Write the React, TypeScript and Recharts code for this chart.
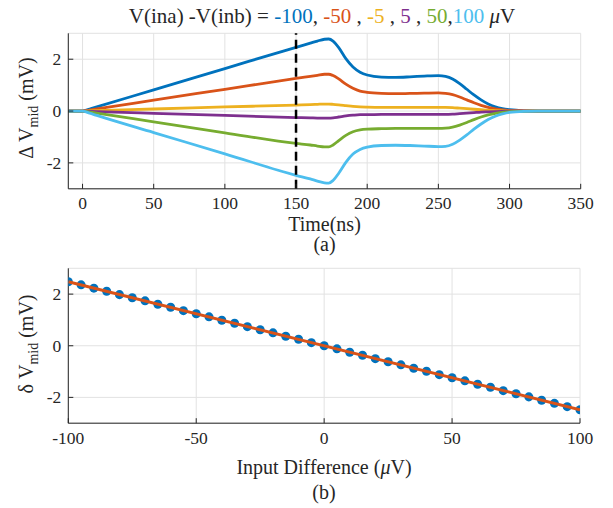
import React from 'react';
import { LineChart, Line, XAxis, YAxis, CartesianGrid, ReferenceLine, ScatterChart, Scatter } from 'recharts';

// ---------- top panel (a) ----------
const times = [-10, 0, 5, 10, 50, 100, 150, 160, 165, 170, 173, 176, 180, 185, 190, 195, 200, 210, 220, 230, 240, 250, 255, 260, 265, 270, 275, 280, 285, 290, 295, 300, 310, 320, 350];
const dvM100 = [0, 0, 0.08, 0.16, 0.82, 1.64, 2.46, 2.62, 2.70, 2.77, 2.78, 2.70, 2.45, 2.02, 1.70, 1.50, 1.39, 1.31, 1.30, 1.32, 1.35, 1.37, 1.34, 1.24, 1.06, 0.84, 0.62, 0.43, 0.27, 0.16, 0.09, 0.05, 0.01, 0, 0];
const dvM50 = [0, 0, 0.04, 0.08, 0.42, 0.84, 1.26, 1.34, 1.38, 1.42, 1.42, 1.37, 1.24, 1.04, 0.88, 0.77, 0.72, 0.68, 0.67, 0.68, 0.69, 0.70, 0.68, 0.63, 0.54, 0.43, 0.32, 0.22, 0.14, 0.08, 0.04, 0.02, 0.01, 0, 0];
const dvM5 = [0, 0, 0.01, 0.02, 0.08, 0.16, 0.23, 0.25, 0.26, 0.27, 0.27, 0.26, 0.24, 0.21, 0.18, 0.16, 0.15, 0.14, 0.14, 0.14, 0.14, 0.14, 0.14, 0.13, 0.11, 0.09, 0.07, 0.05, 0.03, 0.02, 0.01, 0, 0, 0, 0];
const dvP5 = [0, 0, -0.01, -0.02, -0.09, -0.17, -0.25, -0.26, -0.27, -0.27, -0.27, -0.26, -0.23, -0.19, -0.16, -0.14, -0.14, -0.13, -0.13, -0.13, -0.13, -0.13, -0.13, -0.12, -0.10, -0.08, -0.06, -0.04, -0.03, -0.02, -0.01, 0, 0, 0, 0];
const dvP50 = [0, 0, -0.04, -0.08, -0.42, -0.84, -1.25, -1.31, -1.35, -1.38, -1.38, -1.31, -1.14, -0.94, -0.80, -0.73, -0.70, -0.68, -0.67, -0.67, -0.67, -0.67, -0.66, -0.62, -0.54, -0.44, -0.33, -0.23, -0.15, -0.09, -0.05, -0.02, -0.01, 0, 0];
const dvP100 = [0, 0, -0.08, -0.17, -0.83, -1.65, -2.48, -2.62, -2.70, -2.77, -2.78, -2.68, -2.40, -1.98, -1.66, -1.48, -1.39, -1.33, -1.32, -1.33, -1.35, -1.37, -1.36, -1.28, -1.12, -0.92, -0.70, -0.50, -0.33, -0.20, -0.11, -0.05, -0.01, 0, 0];

const seriesKeys = ['m100', 'm50', 'm5', 'p5', 'p50', 'p100'];
const seriesValues = [dvM100, dvM50, dvM5, dvP5, dvP50, dvP100];
const seriesColors = ['#0072BD', '#D95319', '#EDB120', '#7E2F8E', '#77AC30', '#4DBEEE'];
const seriesLabels = ['-100', '-50', '-5', '5', '50', '100'];
const timeTicks = [0, 50, 100, 150, 200, 250, 300, 350];
const dvTicks = [-2, 0, 2];
const markerTime = 150;

// ---------- bottom panel (b) ----------
const diffX = [-100, -95, -90, -85, -80, -75, -70, -65, -60, -55, -50, -45, -40, -35, -30, -25, -20, -15, -10, -5, 0, 5, 10, 15, 20, 25, 30, 35, 40, 45, 50, 55, 60, 65, 70, 75, 80, 85, 90, 95, 100];
const diffY = [2.48, 2.36, 2.23, 2.11, 1.98, 1.86, 1.74, 1.61, 1.49, 1.36, 1.24, 1.12, 0.99, 0.87, 0.74, 0.62, 0.50, 0.37, 0.25, 0.12, 0.0, -0.12, -0.25, -0.37, -0.50, -0.62, -0.74, -0.87, -0.99, -1.12, -1.24, -1.36, -1.49, -1.61, -1.74, -1.86, -1.98, -2.11, -2.23, -2.36, -2.48];
const fitX = [-100, 100];
const fitY = [2.48, -2.48];
const diffTicks = [-100, -50, 0, 50, 100];

const FONT = '"Liberation Serif", "Times New Roman", serif';
const INK = '#262626';
const GRID = '#e2e2e2';

const topData = times.map((t, i) => {
  const row: Record<string, number> = { t };
  seriesKeys.forEach((k, j) => { row[k] = seriesValues[j][i]; });
  return row;
});
const dotData = diffX.map((x, i) => ({ x, y: diffY[i] }));
const fitData = fitX.map((x, i) => ({ x, y: fitY[i] }));

const XTick = (props: any) => (
  <text x={props.x} y={props.y} dy="0.71em" textAnchor="middle" fill={INK} fontSize={17.5} fontFamily={FONT}>
    {props.payload.value}
  </text>
);
const YTick = (props: any) => (
  <text x={props.x} y={props.y} dy="0.34em" textAnchor="end" fill={INK} fontSize={17.5} fontFamily={FONT}>
    {props.payload.value}
  </text>
);

export default function App() {
  return (
    <div style={{ position: 'absolute', left: 0, top: 0, width: 613, height: 508, background: '#fff', fontFamily: FONT }}>
      <div style={{ position: 'absolute', left: 0, top: 0 }}>
        <LineChart width={613} height={250} data={topData}
          margin={{ top: 33.3, right: 32.3, bottom: 31.2, left: 28.3 }}>
          <CartesianGrid stroke={GRID} strokeWidth={1} horizontal vertical />
          <XAxis dataKey="t" type="number" domain={[-10, 350]} ticks={timeTicks} allowDataOverflow
            height={30} stroke={INK} tickSize={-5} tickMargin={13} tick={XTick} interval={0} />
          <XAxis xAxisId="top" orientation="top" dataKey="t" type="number" domain={[-10, 350]} ticks={timeTicks}
            allowDataOverflow height={0} stroke={INK} tickSize={-5} tick={false} interval={0} />
          <YAxis type="number" domain={[-3, 3]} ticks={dvTicks} allowDataOverflow width={40} stroke={INK}
            tickSize={-5} tickMargin={12} tick={YTick} interval={0} />
          <YAxis yAxisId="right" orientation="right" type="number" domain={[-3, 3]} ticks={dvTicks} allowDataOverflow
            width={0} stroke={INK} tickSize={-5} tick={false} interval={0} />
          {seriesKeys.map((k, j) => (
            <Line key={k} dataKey={k} type="monotone" stroke={seriesColors[j]} strokeWidth={2.8}
              dot={false} activeDot={false} isAnimationActive={false} />
          ))}
          <ReferenceLine x={markerTime} stroke="#000" strokeWidth={2.5} strokeDasharray="9 5" />
        </LineChart>
      </div>
      <div style={{ position: 'absolute', left: 0, top: 250 }}>
        <ScatterChart width={613} height={258}
          margin={{ top: 18.3, right: 33, bottom: 54.8, left: 28.3 }}>
          <CartesianGrid stroke={GRID} strokeWidth={1} horizontal vertical />
          <XAxis dataKey="x" type="number" domain={[-100, 100]} ticks={diffTicks} allowDataOverflow height={30}
            stroke={INK} tickSize={-5} tickMargin={13} tick={XTick} interval={0} />
          <YAxis dataKey="y" type="number" domain={[-3, 3]} ticks={dvTicks} allowDataOverflow width={40}
            stroke={INK} tickSize={-5} tickMargin={12} tick={YTick} interval={0} />
          <Scatter data={dotData} fill="#0072BD" isAnimationActive={false} />
          <Scatter data={fitData} fill="none" line={{ stroke: '#D95319', strokeWidth: 3 }}
            shape={() => <g />} isAnimationActive={false} />
        </ScatterChart>
      </div>
      <svg width={613} height={508} style={{ position: 'absolute', left: 0, top: 0, pointerEvents: 'none' }}
        fontFamily={FONT} fill={INK}>
        <text x={322} y={23} textAnchor="middle" fontSize={21}>
          <tspan>V(ina) -V(inb) = </tspan>
          {seriesLabels.map((lab, j) => (
            <React.Fragment key={lab}>
              <tspan fill={seriesColors[j]}>{lab}</tspan>
              {j < seriesLabels.length - 1 ? <tspan>{j === 4 ? ',' : (j === 0 ? ', ' : ' , ')}</tspan> : null}
            </React.Fragment>
          ))}
          <tspan> </tspan><tspan fontStyle="italic">μ</tspan><tspan>V</tspan>
        </text>
        <text x={324.5} y={230.5} textAnchor="middle" fontSize={20}>Time(ns)</text>
        <text x={324.5} y={251} textAnchor="middle" fontSize={20}>(a)</text>
        <text x={324} y={474} textAnchor="middle" fontSize={20}>
          <tspan>Input Difference (</tspan><tspan fontStyle="italic">μ</tspan><tspan>V)</tspan>
        </text>
        <text x={324} y={499} textAnchor="middle" fontSize={20}>(b)</text>
        <text transform="rotate(-90)" x={-108} y={33} textAnchor="middle" fontSize={20}>
          <tspan>Δ V</tspan><tspan fontSize={14} dy={5}>mid</tspan><tspan dy={-5}> (mV)</tspan>
        </text>
        <text transform="rotate(-90)" x={-344} y={33} textAnchor="middle" fontSize={20}>
          <tspan>δ V</tspan><tspan fontSize={14} dy={5}>mid</tspan><tspan dy={-5}> (mV)</tspan>
        </text>
      </svg>
    </div>
  );
}
